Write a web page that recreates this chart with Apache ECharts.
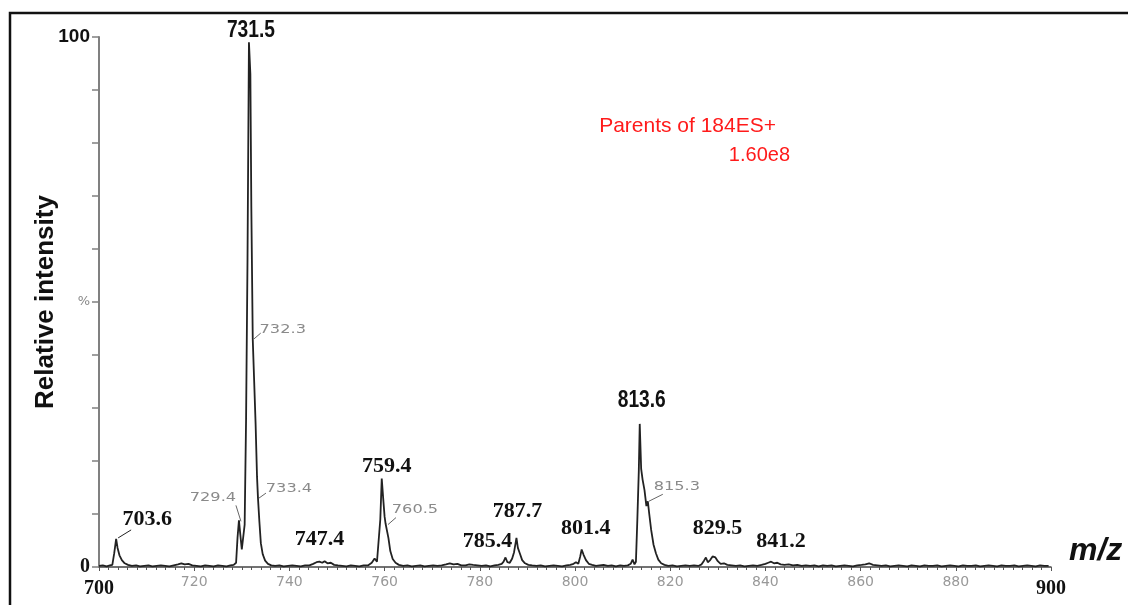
<!DOCTYPE html>
<html>
<head>
<meta charset="utf-8">
<title>Parents of 184ES+</title>
<script src="https://cdn.jsdelivr.net/npm/echarts@6/dist/echarts.min.js"></script>
<style>
  html, body { margin: 0; padding: 0; background: #fff; }
  #chart { width: 1128px; height: 605px; }
</style>
</head>
<body>
<div id="chart"></div>
<script>
// Precursor-ion scan, m/z 700–900, relative intensity (%)
const mzValues = [
  700.0, 700.8, 701.6, 702.3, 702.8, 703.2, 703.6, 703.9, 704.3, 704.8, 705.4, 706.1, 706.9, 707.8, 708.6, 709.5,
  710.4, 711.2, 712.1, 713.0, 713.9, 714.8, 715.7, 716.6, 717.3, 718.0, 718.8, 719.6, 720.5, 721.4, 722.3, 723.2,
  724.1, 725.0, 725.9, 726.8, 727.6, 728.3, 728.8, 729.1, 729.4, 729.7, 730.0, 730.3, 730.6, 730.9, 731.2, 731.5,
  731.8, 732.0, 732.3, 732.6, 732.9, 733.2, 733.4, 733.7, 734.0, 734.4, 734.9, 735.5, 736.2, 737.0, 737.9, 738.8,
  739.7, 740.6, 741.5, 742.4, 743.3, 744.2, 745.0, 745.7, 746.3, 746.9, 747.4, 748.0, 748.7, 749.4, 750.2, 751.1,
  752.0, 752.9, 753.8, 754.7, 755.6, 756.5, 757.3, 757.9, 758.4, 758.8, 759.1, 759.4, 759.7, 760.0, 760.2, 760.5,
  760.8, 761.2, 761.7, 762.3, 763.0, 763.9, 764.8, 765.7, 766.6, 767.5, 768.4, 769.3, 770.2, 771.1, 772.0, 772.9,
  773.7, 774.5, 775.3, 776.1, 777.0, 777.8, 778.6, 779.5, 780.4, 781.3, 782.2, 783.1, 783.9, 784.6, 785.0, 785.4,
  785.8, 786.3, 786.8, 787.2, 787.7, 788.0, 788.4, 788.9, 789.5, 790.2, 791.0, 791.9, 792.8, 793.7, 794.6, 795.5,
  796.4, 797.3, 798.2, 799.0, 799.7, 800.2, 800.7, 801.1, 801.4, 801.8, 802.3, 802.9, 803.6, 804.4, 805.2, 806.0,
  806.9, 807.7, 808.6, 809.5, 810.3, 811.1, 811.7, 812.1, 812.5, 812.8, 813.1, 813.4, 813.6, 813.9, 814.2, 814.6,
  815.0, 815.3, 815.6, 816.0, 816.5, 817.0, 817.5, 818.1, 818.8, 819.6, 820.5, 821.4, 822.3, 823.2, 824.1, 825.0,
  825.9, 826.6, 827.1, 827.5, 827.9, 828.4, 828.9, 829.5, 830.0, 830.6, 831.3, 832.0, 832.9, 833.8, 834.7, 835.6,
  836.5, 837.4, 838.3, 839.2, 840.0, 840.6, 841.2, 841.8, 842.5, 843.2, 844.0, 844.9, 845.8, 846.7, 847.6, 848.5,
  849.4, 850.3, 851.2, 852.1, 853.0, 853.9, 854.8, 855.7, 856.6, 857.5, 858.4, 859.3, 860.2, 861.0, 861.8, 862.6,
  863.5, 864.4, 865.3, 866.2, 867.1, 868.0, 868.9, 869.8, 870.7, 871.6, 872.5, 873.4, 874.3, 875.2, 876.1, 877.0,
  877.9, 878.8, 879.7, 880.6, 881.5, 882.4, 883.3, 884.2, 885.1, 886.0, 886.9, 887.8, 888.7, 889.6, 890.5, 891.4,
  892.3, 893.2, 894.1, 895.0, 895.9, 896.8, 897.7, 898.6, 899.5
];
const relIntensity = [
  0.2, 0.3, 0.1, 0.3, 0.4, 2.6, 5.3, 3.6, 2.2, 1.3, 0.7, 0.4, 0.2, 0.3, 0.1, 0.2,
  0.3, 0.1, 0.2, 0.3, 0.2, 0.1, 0.3, 0.5, 0.7, 0.5, 0.6, 0.3, 0.2, 0.1, 0.3, 0.2,
  0.1, 0.3, 0.2, 0.1, 0.3, 0.4, 0.8, 5.5, 8.8, 6.0, 3.3, 3.0, 8.0, 28, 58, 99,
  93, 68, 43, 35, 27, 17, 13, 8.5, 4.5, 2.4, 1.2, 0.6, 0.3, 0.2, 0.3, 0.1,
  0.2, 0.3, 0.2, 0.1, 0.3, 0.3, 0.6, 0.9, 1.0, 0.8, 1.1, 0.7, 0.8, 0.4, 0.3, 0.2,
  0.1, 0.3, 0.2, 0.1, 0.3, 0.3, 0.8, 1.6, 1.0, 1.2, 9.0, 16.7, 13, 9.5, 8.2, 8.0,
  5.5, 3.0, 1.5, 0.8, 0.4, 0.2, 0.3, 0.1, 0.2, 0.3, 0.1, 0.2, 0.3, 0.2, 0.3, 0.5,
  0.7, 0.5, 0.6, 0.3, 0.3, 0.5, 0.4, 0.3, 0.2, 0.3, 0.1, 0.3, 0.4, 0.6, 1.0, 1.8,
  0.9, 0.8, 1.6, 2.8, 5.5, 3.6, 2.6, 1.3, 0.7, 0.4, 0.3, 0.2, 0.3, 0.1, 0.2, 0.3,
  0.2, 0.1, 0.3, 0.4, 0.6, 0.9, 0.6, 2.0, 3.3, 2.3, 1.3, 0.6, 0.4, 0.2, 0.3, 0.4,
  0.2, 0.3, 0.1, 0.3, 0.2, 0.3, 0.6, 1.4, 0.5, 1.0, 9.0, 18, 27, 18.5, 16.5, 14.5,
  11.5, 12.4, 10, 7.0, 4.2, 2.6, 1.4, 0.7, 0.4, 0.2, 0.3, 0.1, 0.2, 0.3, 0.2, 0.3,
  0.2, 0.5, 1.2, 1.8, 0.9, 1.3, 2.0, 1.8, 1.1, 0.6, 0.7, 0.4, 0.3, 0.2, 0.3, 0.1,
  0.2, 0.3, 0.2, 0.4, 0.6, 0.8, 1.0, 0.7, 0.8, 0.5, 0.4, 0.5, 0.3, 0.4, 0.2, 0.3,
  0.2, 0.3, 0.1, 0.3, 0.2, 0.3, 0.1, 0.2, 0.3, 0.2, 0.1, 0.3, 0.4, 0.5, 0.7, 0.4,
  0.3, 0.2, 0.3, 0.1, 0.2, 0.3, 0.2, 0.1, 0.3, 0.2, 0.1, 0.3, 0.2, 0.2, 0.3, 0.1,
  0.2, 0.3, 0.2, 0.1, 0.3, 0.2, 0.2, 0.3, 0.1, 0.2, 0.3, 0.2, 0.1, 0.3, 0.2, 0.2,
  0.3, 0.1, 0.2, 0.3, 0.2, 0.1, 0.3, 0.2, 0.2
];

// Annotated ions (major peaks and minor shoulder ions)
const majorPeaks = [703.6, 731.5, 747.4, 759.4, 785.4, 787.7, 801.4, 813.6, 829.5, 841.2];
const minorPeaks = [729.4, 732.3, 733.4, 760.5, 815.3];

// Axis tick labels
const xTickEnds = [700, 900];
const yTickLabels = { 0: '0', 50: '%', 100: '100' };

const titleText = 'Parents of 184ES+';
const scaleText = '1.60e8';

// intensity of the profile at an annotated m/z
function intensityAt(mz) {
  const i = mzValues.findIndex(v => Math.abs(v - mz) < 1e-6);
  return relIntensity[i];
}

const spectrum = mzValues.map((m, i) => [m, relIntensity[i]]);

// label placement relative to the annotated point (pixels)
const majorLayout = {
  703.6: { dx: 31, dy: -20, lead: [[2, -1], [15, -9]] },
  731.5: { dx: 2, dy: -12, narrow: true },
  747.4: { dx: -5, dy: -22 },
  759.4: { dx: 5, dy: -12 },
  785.4: { dx: -18, dy: -16 },
  787.7: { dx: 1, dy: -27 },
  801.4: { dx: 4, dy: -21 },
  813.6: { dx: 2, dy: -24, narrow: true },
  829.5: { dx: 2, dy: -29 },
  841.2: { dx: 10, dy: -20 }
};
const minorLayout = {
  729.4: { dx: -26, dy: -22, lead: [[2, 1], [-3, -15]] },
  732.3: { dx: 30, dy: -9, lead: [[1, 0], [8, -6]] },
  733.4: { dx: 31, dy: -9, lead: [[1, 0], [8, -5]] },
  760.5: { dx: 28, dy: -15, lead: [[1, 0], [9, -7]] },
  815.3: { dx: 29, dy: -14, lead: [[1, 0], [15, -7]] }
};

function labelSeries(peaks, layout, major) {
  return {
    type: 'custom',
    coordinateSystem: 'cartesian2d',
    clip: false,
    silent: true,
    z: 5,
    data: peaks.map(m => [m, intensityAt(m)]),
    renderItem: function (params, api) {
      const mz = api.value(0);
      const p = api.coord([mz, api.value(1)]);
      const L = layout[mz.toFixed(1)];
      const children = [];
      if (L.lead) {
        children.push({
          type: 'polyline',
          shape: { points: L.lead.map(q => [p[0] + q[0], p[1] + q[1]]) },
          style: { stroke: major ? '#222' : '#666', lineWidth: 1, fill: null }
        });
      }
      children.push({
        type: 'text',
        x: p[0] + L.dx,
        y: p[1] + L.dy,
        scaleX: major ? (L.narrow ? 0.8 : 1) : 1.35,
        style: {
          text: mz.toFixed(1),
          font: major
            ? (L.narrow ? 'bold 24px "Liberation Sans"' : 'bold 22px "Liberation Serif"')
            : '12px "DejaVu Sans"',
          fill: major ? '#111' : '#8a8a8a',
          align: 'center',
          verticalAlign: 'middle'
        }
      });
      return { type: 'group', children: children };
    }
  };
}

const chart = echarts.init(document.getElementById('chart'));
chart.setOption({
  animation: false,
  backgroundColor: '#fff',
  grid: { left: 99, right: 77, top: 37, bottom: 38 },
  xAxis: {
    type: 'value',
    min: 700,
    max: 900,
    interval: 20,
    name: 'm/z',
    nameLocation: 'end',
    nameGap: 18,
    nameMoveOverlap: false,
    nameTextStyle: {
      fontFamily: '"Liberation Sans"',
      fontSize: 32,
      fontStyle: 'italic',
      fontWeight: 'bold',
      color: '#111',
      align: 'left',
      verticalAlign: 'bottom',
      lineHeight: 32
    },
    axisLine: { lineStyle: { color: '#444', width: 1.5 } },
    axisTick: { show: true, length: 4, lineStyle: { color: '#555' } },
    minorTick: { show: true, splitNumber: 10, length: 3, lineStyle: { color: '#555' } },
    splitLine: { show: false },
    axisLabel: {
      margin: 8,
      formatter: v => xTickEnds.includes(v) ? '{e|' + v + '}' : '{m|' + v + '}',
      rich: {
        e: { fontFamily: '"Liberation Serif"', fontWeight: 'bold', fontSize: 20, color: '#111', padding: [4, 0, 0, 0] },
        m: { fontFamily: '"DejaVu Sans"', fontSize: 14, color: '#999' }
      }
    }
  },
  yAxis: {
    type: 'value',
    min: 0,
    max: 100,
    interval: 10,
    axisLine: { show: true, lineStyle: { color: '#808080', width: 2 } },
    axisTick: { show: true, length: 7, lineStyle: { color: '#808080', width: 1.5 } },
    splitLine: { show: false },
    axisLabel: {
      margin: 9,
      formatter: v => {
        const t = yTickLabels[v];
        if (t === undefined) return '';
        return v === 100 ? '{t|' + t + '}' : v === 0 ? '{z|' + t + '}' : '{p|' + t + '}';
      },
      rich: {
        t: { fontFamily: '"Liberation Sans"', fontWeight: 'bold', fontSize: 19, color: '#111' },
        z: { fontFamily: '"Liberation Serif"', fontWeight: 'bold', fontSize: 20, color: '#111' },
        p: { fontFamily: '"DejaVu Sans"', fontSize: 13, color: '#888' }
      }
    },
    name: 'Relative intensity',
    nameLocation: 'middle',
    nameRotate: 90,
    nameGap: 40,
    nameMoveOverlap: false,
    nameTextStyle: { fontFamily: '"Liberation Sans"', fontWeight: 'bold', fontSize: 26, color: '#111' }
  },
  graphic: [
    {
      type: 'rect',
      z: -1,
      shape: { x: 10, y: 13, width: 1300, height: 800 },
      style: { fill: null, stroke: '#111', lineWidth: 2.5 }
    },
    {
      type: 'text',
      x: 776, y: 126,
      style: { text: titleText, font: '21px "Liberation Sans"', fill: '#ff1a1a', align: 'right', verticalAlign: 'middle' }
    },
    {
      type: 'text',
      x: 790, y: 155,
      style: { text: scaleText, font: '20px "Liberation Sans"', fill: '#ff1a1a', align: 'right', verticalAlign: 'middle' }
    }
  ],
  series: [
    {
      type: 'line',
      data: spectrum,
      showSymbol: false,
      symbol: 'none',
      lineStyle: { color: '#222', width: 1.8 },
      z: 3
    },
    labelSeries(majorPeaks, majorLayout, true),
    labelSeries(minorPeaks, minorLayout, false)
  ]
});
</script>
</body>
</html>
